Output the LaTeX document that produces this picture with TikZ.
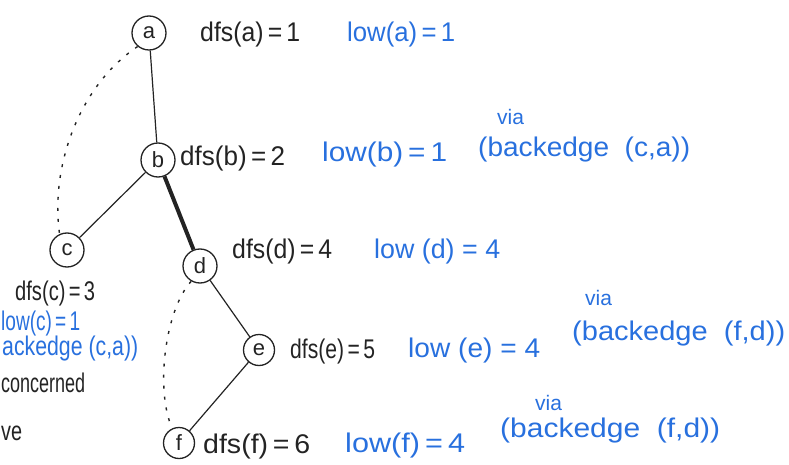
\documentclass[tikz,border=0pt]{standalone}
\usepackage{fontspec}
\setmainfont{Liberation Sans}
\usepackage{graphicx}
\definecolor{ink}{RGB}{35,35,35}
\definecolor{penblue}{RGB}{40,112,222}
% set a text at a given width (in pt) while keeping its height
\newcommand\fitw[2]{\resizebox{#1pt}{\height}{#2}}

\begin{document}
\begin{tikzpicture}[x=1pt,y=-1pt,
  vert/.style={circle,draw=ink,line width=1.3pt,minimum size=34pt,inner sep=0pt,
    font=\fontsize{22}{22}\selectfont,text=ink},
  lbl/.style={anchor=base west,inner sep=0pt,font=\fontsize{27}{27}\selectfont,text=ink},
  lowlbl/.style={lbl,text=penblue},
  vialbl/.style={lbl,text=penblue,font=\fontsize{21}{21}\selectfont},
  treeedge/.style={draw=ink,line width=1.2pt},
  bridge/.style={draw=ink,line width=4pt},
  backedge/.style={draw=ink,line width=1.4pt,dash pattern=on 3pt off 8pt}]

\useasboundingbox (0,0) rectangle (789,465);
\clip (0,0) rectangle (789,465);

% vertices of the DFS tree
\node[vert] (a) at (149,33) {a};
\node[vert] (b) at (158,160) {b};
\node[vert] (c) at (67,250) {c};
\node[vert] (d) at (200,266) {d};
\node[vert,minimum size=31pt] (e) at (259,350) {e};
\node[vert,minimum size=31pt] (f) at (179,443) {f};

% tree edges
\draw[treeedge] (a) -- (b);
\draw[treeedge] (b) -- (c);
\draw[bridge] (b) -- (d);
\draw[treeedge] (d) -- (e);
\draw[treeedge] (e) -- (f);

% back edges
\draw[backedge] (a.230) .. controls (80,85) and (50,165) .. (c.115);
\draw[backedge] (d.240) .. controls (165,310) and (155,390) .. (f.115);

% dfs numbers
\node[lbl] (da) at (200,42) {\fitw{100}{dfs(a)\,=\,1}};
\node[lbl] (db) at (180,166) {\fitw{105}{dfs(b)\,=\,2}};
\node[lbl] (dc) at (15,300) {\fitw{80}{dfs(c)\,=\,3}};
\node[lbl] (dd) at (232,258) {\fitw{100}{dfs(d)\,=\,4}};
\node[lbl] (de) at (290,358) {\fitw{85}{dfs(e)\,=\,5}};
\node[lbl] (df) at (203,453) {\fitw{107}{dfs(f)\,=\,6}};

% low values
\node[lowlbl] (la) at (347,42) {\fitw{108}{low(a)\,=\,1}};
\node[lowlbl] (lb) at (322,162) {\fitw{125}{low(b)\,=\,1}};
\node[lowlbl] (ld) at (374,258) {\fitw{126}{low (d) = 4}};
\node[lowlbl] (le) at (408,357) {\fitw{132}{low (e) = 4}};
\node[lowlbl] (lf) at (345,452) {\fitw{120}{low(f)\,=\,4}};

% reasons
\node[vialbl] (vb) at (497,125) {via};
\node[lowlbl] (rb) at (478,157) {\fitw{212}{(backedge\ \ (c,a))}};
\node[vialbl] (ve) at (585,305) {via};
\node[lowlbl] (re) at (572,340) {\fitw{213}{(backedge\ \ (f,d))}};
\node[vialbl] (vf) at (535,410) {via};
\node[lowlbl] (rf) at (500,437) {\fitw{220}{(backedge\ \ (f,d))}};

% notes along the left edge
\node[lowlbl] (lc) at (1,330) {\fitw{79}{low(c)\,=\,1}};
\node[lowlbl] (rc) at (2,355) {\fitw{136}{ackedge (c,a))}};
\node[lbl] (n1) at (1,392) {\fitw{84}{concerned}};
\node[lbl] (n2) at (1,440) {\fitw{21}{ve}};
\end{tikzpicture}
\end{document}
